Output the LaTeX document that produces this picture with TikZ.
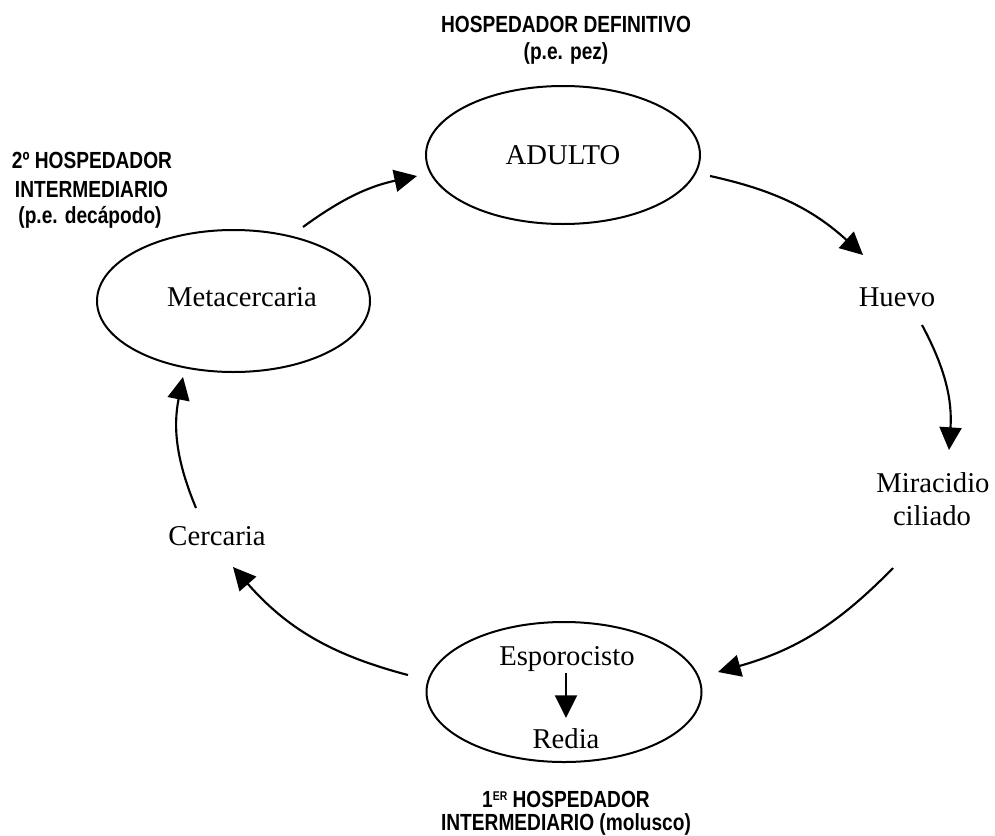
\documentclass[tikz,border=0pt]{standalone}
\usepackage{fontspec}
\setmainfont{Liberation Serif}
\newfontfamily\hfont[FakeStretch=0.82]{Liberation Sans}
\usetikzlibrary{arrows.meta,shapes.geometric}
\begin{document}
\begin{tikzpicture}[x=0.75pt,y=0.75pt,
  stage/.style={draw,line width=1.5pt,ellipse,inner sep=0pt},
  lbl/.style={font=\fontsize{21.5}{25}\selectfont,anchor=base,inner sep=0pt},
  hdr/.style={font=\hfont\bfseries\fontsize{17.5}{20}\selectfont,anchor=base,inner sep=0pt},
  cyc/.style={line width=1.6pt,-{Triangle[length=17pt,width=16.5pt]}}]
\useasboundingbox (0,0) rectangle (995,-835);
% stages
\node[stage,minimum width=205.5pt,minimum height=103.5pt] (adulto) at (563,-155) {};
\node[stage,minimum width=204.75pt,minimum height=106.5pt] (meta) at (233.5,-301) {};
\node[stage,minimum width=206.25pt,minimum height=105pt] (espo) at (564,-692) {};
% labels
\node[lbl] (tadulto) at (563,-164) {ADULTO};
\node[lbl] (tmeta) at (242,-306) {Metacercaria};
\node[lbl] (thuevo) at (897,-306) {Huevo};
\node[lbl] (tmira) at (933,-492) {Miracidio};
\node[lbl] (tcil) at (932,-525) {ciliado};
\node[lbl] (tcer) at (217,-545) {Cercaria};
\node[lbl] (tespo) at (567,-665) {Esporocisto};
\node[lbl] (tredia) at (566,-748) {Redia};
% headings
\node[hdr] (h1a) at (566,-32) {HOSPEDADOR DEFINITIVO};
\node[hdr] (h1b) at (566,-59) {(p.e. pez)};
\node[hdr] (h2a) at (92,-168) {2º HOSPEDADOR};
\node[hdr] (h2b) at (91.5,-197) {INTERMEDIARIO};
\node[hdr] (h2c) at (90,-223) {(p.e. decápodo)};
\node[hdr] (h3a) at (566,-807) {1\raisebox{0.55ex}{\fontsize{9.5}{10}\selectfont ER} HOSPEDADOR};
\node[hdr] (h3b) at (566,-830) {INTERMEDIARIO (molusco)};
% connector ends
\coordinate (a1s) at (710,-176);  \coordinate (a1e) at (863,-255);
\coordinate (a2s) at (922,-325);  \coordinate (a2e) at (949,-450);
\coordinate (a3s) at (893,-568);  \coordinate (a3e) at (718,-672);
\coordinate (a4s) at (408,-675);  \coordinate (a4e) at (233,-567);
\coordinate (a5s) at (196,-508);  \coordinate (a5e) at (183,-377);
\coordinate (a6s) at (303,-227);  \coordinate (a6e) at (417,-176);
\coordinate (a7s) at (566,-673);  \coordinate (a7e) at (566,-718);
% cycle arrows
\draw[cyc] (a1s) to[bend left=15] (a1e);
\draw[cyc] (a2s) to[bend left=16] (a2e);
\draw[cyc] (a3s) to[bend left=15] (a3e);
\draw[cyc] (a4s) to[bend left=17] (a4e);
\draw[cyc] (a5s) to[bend left=17] (a5e);
\draw[cyc] (a6s) to[bend left=12] (a6e);
\draw[cyc] (a7s) -- (a7e);
\end{tikzpicture}
\end{document}
